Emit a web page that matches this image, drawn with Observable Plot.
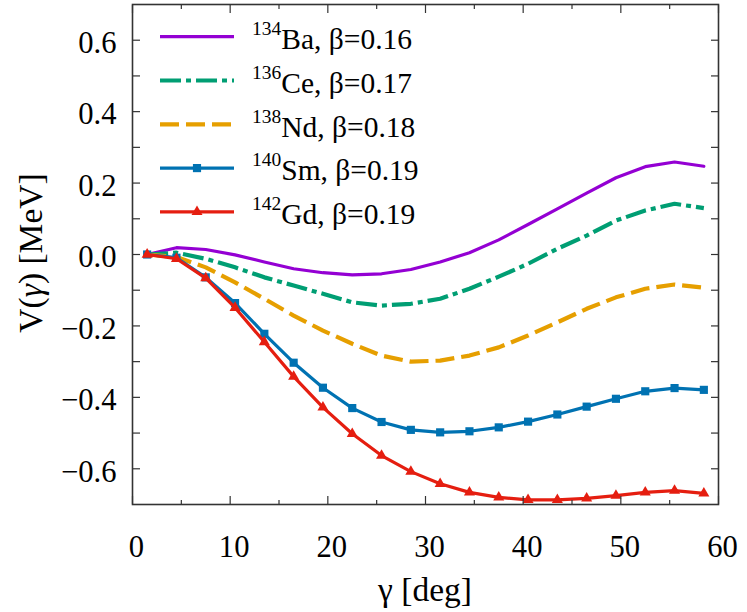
<!DOCTYPE html>
<html><head><meta charset="utf-8">
<script src="https://cdn.jsdelivr.net/npm/d3@7"></script>
<script src="https://cdn.jsdelivr.net/npm/@observablehq/plot@0.6"></script>
<style>body{margin:0;background:#fff;} #chart{width:747px;height:612px;}
.serifchart text{font-family:'Times New Roman',Tinos,serif;}</style>
</head><body><div id="chart" class="serifchart"></div>
<script>
// gamma grid (deg)
const gamma = [1.5,4.5,7.5,10.5,13.5,16.5,19.5,22.5,25.5,28.5,31.5,34.5,37.5,40.5,43.5,46.5,49.5,52.5,55.5,58.5];
// V(gamma) [MeV]
const Ba134 = [0, 0.019, 0.014, -0.001, -0.021, -0.040, -0.051, -0.057, -0.054, -0.042, -0.021, 0.005, 0.041, 0.084, 0.128, 0.172, 0.215, 0.246, 0.259, 0.247];
const Ce136 = [0, 0.005, -0.012, -0.036, -0.064, -0.087, -0.110, -0.134, -0.143, -0.138, -0.124, -0.096, -0.062, -0.026, 0.016, 0.053, 0.095, 0.123, 0.142, 0.130];
const Nd138 = [0, -0.007, -0.036, -0.078, -0.124, -0.171, -0.213, -0.250, -0.283, -0.300, -0.297, -0.283, -0.260, -0.227, -0.190, -0.152, -0.120, -0.096, -0.084, -0.093];
const Sm140 = [0, -0.009, -0.064, -0.136, -0.222, -0.303, -0.373, -0.430, -0.469, -0.491, -0.498, -0.495, -0.484, -0.468, -0.448, -0.426, -0.404, -0.383, -0.374, -0.379];
const Gd142 = [0, -0.012, -0.066, -0.149, -0.245, -0.342, -0.428, -0.502, -0.563, -0.608, -0.642, -0.666, -0.680, -0.687, -0.687, -0.683, -0.675, -0.666, -0.661, -0.669];

const massNumbers = ["134","136","138","140","142"];
const elements = ["Ba","Ce","Nd","Sm","Gd"];
const betas = ["0.16","0.17","0.18","0.19","0.19"];
const seriesValues = [Ba134, Ce136, Nd138, Sm140, Gd142];

const xTickLabels = [0,10,20,30,40,50,60];
const xMinorTicks = [5,15,25,35,45,55];
const yTickLabels = [-0.6,-0.4,-0.2,0,0.2,0.4,0.6];
const yTicks = [-0.6,-0.5,-0.4,-0.3,-0.2,-0.1,0,0.1,0.2,0.3,0.4,0.5,0.6];

// styles (separate from data)
const styles = [
  {color:"#9400D3", width:3.2, dash:null, symbol:null},
  {color:"#009E73", width:4.2, dash:"21,5,5,5", symbol:null},
  {color:"#E69F00", width:4.2, dash:"19,7", symbol:null},
  {color:"#0072B2", width:3.2, dash:null, symbol:"square", r:4.6},
  {color:"#E51E10", width:3.2, dash:null, symbol:"triangle", r:4.1}
];

const tables = seriesValues.map(vals => gamma.map((g,i)=>({g, v: vals[i]})));

const FONT = "'Times New Roman',Tinos,serif";
const axisColor = "#333";
const TICKFS = 30.6, TITLEFS = 33.5, LEGFS = 29.5, SUPFS = 19.5;

const marks = [];
tables.forEach((t,k)=>{
  const s = styles[k];
  marks.push(Plot.line(t, {x:"g", y:"v", stroke:s.color, strokeWidth:s.width,
    strokeDasharray: s.dash || undefined, strokeLinecap: s.dash ? "butt" : "round", strokeLinejoin:"round"}));
  if (s.symbol) marks.push(Plot.dot(t, {x:"g", y:"v", symbol:s.symbol, r:s.r, fill:s.color, stroke:"none"}));
});

const noText = () => "";
const tk = {label:null, tickFormat:noText, stroke:axisColor, strokeWidth:1.2};
marks.push(
  Plot.axisX(xTickLabels, {...tk, anchor:"bottom", tickSize:-8}),
  Plot.axisX(xMinorTicks, {...tk, anchor:"bottom", tickSize:-4}),
  Plot.axisX(xTickLabels, {...tk, anchor:"top", tickSize:-8}),
  Plot.axisX(xMinorTicks, {...tk, anchor:"top", tickSize:-4}),
  Plot.axisY(yTicks, {...tk, anchor:"left", tickSize:-8}),
  Plot.axisY(yTicks, {...tk, anchor:"right", tickSize:-8}),
  Plot.axisX(xTickLabels, {anchor:"bottom", label:null, tickSize:0, tickPadding:31, dx:4, fontSize:TICKFS, fill:"#000", tickFormat:d3.format("d")}),
  Plot.axisY(yTickLabels, {anchor:"left", label:null, tickSize:0, tickPadding:16, dy:3, fontSize:TICKFS, fill:"#000", tickFormat:d3.format(".1f")}),
  Plot.frame({stroke:axisColor, strokeWidth:1.6})
);

const plot = Plot.plot({
  width:747, height:612,
  marginLeft:132, marginRight:29, marginTop:4, marginBottom:108,
  x:{domain:[0,60], axis:null},
  y:{domain:[-0.7,0.7], axis:null},
  style:{fontFamily:FONT, fontSize:TICKFS + "px", background:"#fff", color:"#000"},
  marks
});

const svg = d3.select(plot);
// axis titles
svg.append("text").attr("x",425).attr("y",601).attr("text-anchor","middle")
  .attr("font-size",TITLEFS).attr("fill","#000").text("γ [deg]");
const yt = svg.append("text").attr("transform","translate(42,253) rotate(-90)").attr("text-anchor","middle")
  .attr("font-size",TITLEFS).attr("fill","#000");
yt.append("tspan").text("V(");
yt.append("tspan").attr("font-style","italic").text("γ");
yt.append("tspan").text(") [MeV]");

// legend
const lg = svg.append("g").attr("text-anchor","start");
massNumbers.forEach((m,i)=>{
  const s = styles[i];
  const yLine = 36.7 + i*43.8;
  lg.append("line").attr("x1",160).attr("x2",234).attr("y1",yLine).attr("y2",yLine)
    .attr("stroke",s.color).attr("stroke-width",s.width)
    .attr("stroke-dasharray", s.dash || null);
  if (s.symbol) {
    const sym = s.symbol === "square" ? d3.symbolSquare : d3.symbolTriangle;
    lg.append("path").attr("d", d3.symbol(sym, Math.PI*s.r*s.r)())
      .attr("transform",`translate(197,${yLine})`).attr("fill",s.color);
  }
  const t = lg.append("text").attr("x",252).attr("y",49 + i*43.8).attr("text-anchor","start").attr("fill","#000");
  t.append("tspan").attr("font-size",SUPFS).attr("dy",-14).text(m);
  t.append("tspan").attr("font-size",LEGFS).attr("dy",14).text(`${elements[i]}, β=${betas[i]}`);
});

document.getElementById("chart").appendChild(plot);
</script>
</body></html>
